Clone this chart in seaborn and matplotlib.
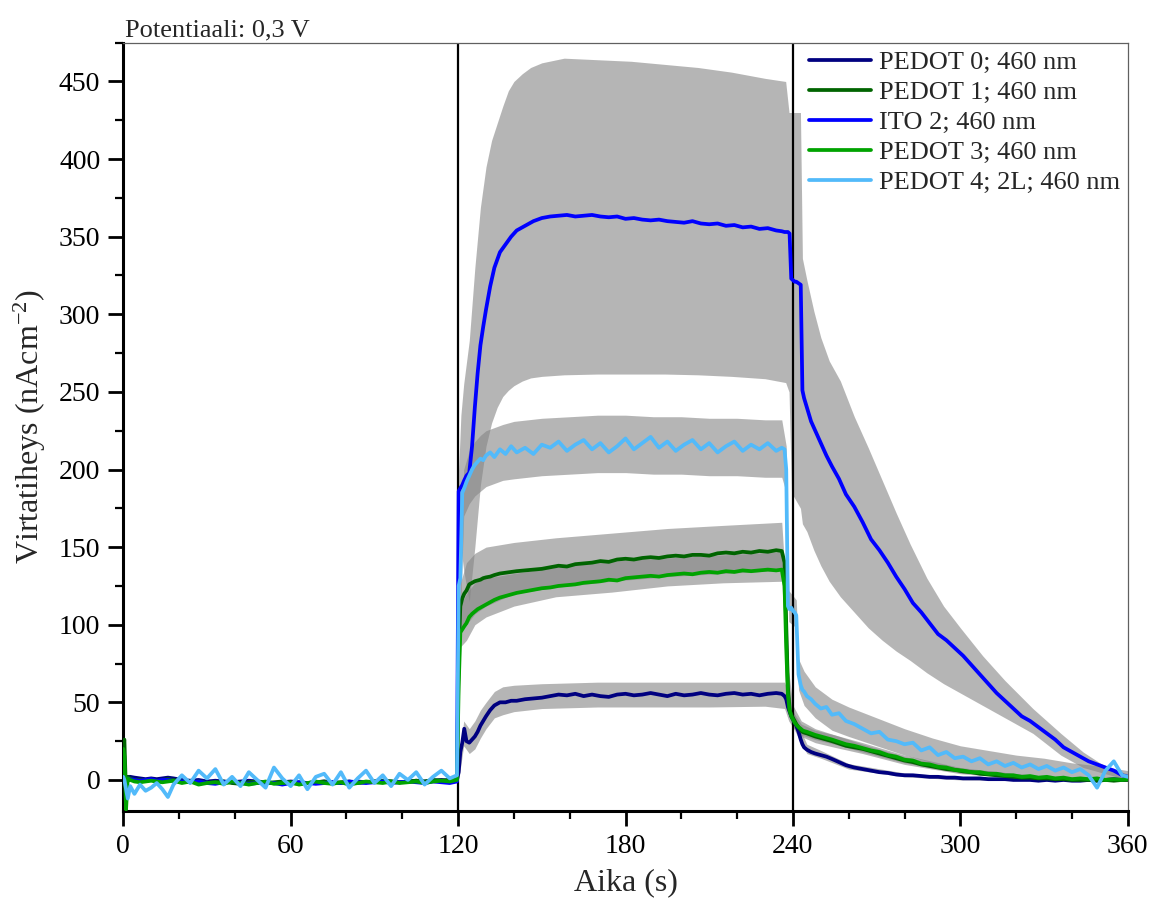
import numpy as np
import pandas as pd
import matplotlib
matplotlib.use("Agg")
import matplotlib.pyplot as plt
from matplotlib.ticker import MultipleLocator
import seaborn as sns

# ---------------------------------------------------------------------------
# Sampling times (s): dark, light on (120 s), light off (240 s), relaxation
# ---------------------------------------------------------------------------
t_pre = [0, 0.4, 1.0, 1.6, 2.5, 4, 6, 8, 10, 12, 14, 16, 18,
         21, 24, 27, 30, 33, 36, 39, 42, 45, 48, 51, 54, 57, 60, 63, 66, 69,
         72, 75, 78, 81, 84, 87, 90, 93, 96, 99, 102, 105, 108, 111, 114, 117,
         119.6]
t_rise = [120.2, 120.8, 121.5, 122.2, 123, 124, 125, 126, 127, 128, 129, 130,
          131.5, 133, 135, 137, 139, 141, 144, 147, 150]
t_plat = [153, 156, 159, 162, 165, 168, 171, 174, 177, 180, 183, 186, 189, 192,
          195, 198, 201, 204, 207, 210, 213, 216, 219, 222, 225, 228, 231, 234,
          236, 237, 237.6]
t_fall = [238.2, 238.8, 239.4, 240, 240.6, 241.2, 242, 242.8, 243.4, 244, 245,
          246.5, 248, 250, 252, 254, 256.5, 259]
t_decay = [262, 265, 268, 271, 274, 277, 280, 283, 286, 289, 292, 295, 298, 301,
           304, 307, 310, 313, 316, 319, 322, 325, 328, 331, 334, 337, 340, 343,
           346, 349, 352, 355, 358, 360]
time_s = t_pre + t_rise + t_plat + t_fall + t_decay

# ---------------------------------------------------------------------------
# Mean photocurrent density (nA/cm2)
# ---------------------------------------------------------------------------
pedot0 = ([0, 2, 1.5, 2, 2, 1.5, 1, 0.5, 1, 0.5, 1, 1.5, 1,
           0, -0.5, 0, -1, -0.5, -1, -1.5, -1, -0.5, -1, -1.5, -2, -1.5, -1,
           -1.5, -2, -1.5, -1, -1.5, -2, -1.5, -1, -1.5, -1, -0.5, -1, -1.5, -1,
           -0.5, -1, -0.5, 0, -0.5, 0]
          + [5, 18, 24, 33, 25, 24, 26, 28, 31, 35, 38, 41, 45, 48, 50, 50, 51,
             51, 52, 52.5, 53]
          + [54, 55, 54.5, 55.5, 54, 55, 54, 53.5, 55, 55.5, 54.5, 55, 56, 55,
             54, 55.5, 54.5, 55, 56, 55, 54.5, 55.5, 56, 55, 55.5, 54.5, 55.5,
             56, 55.5, 54, 52]
          + [47, 44, 41, 39, 37, 35, 31, 26, 23, 21, 19.5, 18, 17, 16, 15, 13.5,
             11.5, 9.5]
          + [8, 7, 6, 5, 4.5, 3.5, 3, 3, 2.5, 2, 2, 1.5, 1.5, 1, 1, 1, 0.5, 0.5,
             0.5, 0, 0, 0, -0.5, 0, -0.5, 0, -0.5, -0.5, 0, -0.5, 0, 0.5, 0, 0.5])

pedot1 = ([24, 26, -10, 2, 1, 0, 0, -0.5, 0, -1, 0, 0.5, 0,
           -1, -1.5, -1, -2, -1.5, -1, -2, -2.5, -1.5, -1, -2, -1.5, -1, -2,
           -2.5, -2, -1.5, -1, -2, -1.5, -1, -2, -1.5, -1, -0.5, -1, -1.5, -1,
           -0.5, -1, 0, -0.5, 0, 0.5]
          + [80, 112, 117, 120, 122, 126, 127, 128, 128.5, 129, 130, 130.5, 131,
             132, 133, 133.5, 134, 134.5, 135, 135.5, 136]
          + [137, 138, 137.5, 139, 139.5, 140, 141, 140.5, 142, 142.5, 142, 143,
             143.5, 143, 144, 144.5, 144, 145, 145, 144.5, 146, 146.5, 146, 147,
             146.5, 147.5, 147, 148, 147.5, 140, 100]
          + [60, 45, 42, 40, 38, 36, 34, 32, 31, 30.5, 30, 29, 28, 27, 26, 25,
             23.5, 22]
          + [21, 20, 18.5, 17, 15.5, 14, 12.5, 11.5, 10, 9, 8, 7, 6.5, 5.5, 5, 4,
             3.5, 3, 2.5, 2, 1.5, 1.5, 1, 1, 0.5, 0.5, 0, 0, 0, -0.5, 0, -0.5,
             0, 0])

ito2 = ([0, 1, 0.5, 1, 0.5, 0, -0.5, 0, 0.5, -0.5, 0, 0, -0.5,
         -1, -1.5, -1, -2, -2.5, -1.5, -1, -2, -2.5, -2, -1.5, -2, -3, -2, -1.5,
         -2, -2.5, -2, -1.5, -2, -1, -1.5, -2, -1.5, -1, -2, -1.5, -1, -1.5, -2,
         -1, -1.5, -2, -1]
        + [186, 188, 190, 193, 196, 198, 215, 240, 262, 280, 292, 303, 318, 330,
           340, 345, 350, 354, 357, 360, 362]
        + [363, 363.5, 364, 363, 363.5, 364, 363, 362.5, 363, 361.5, 362, 361,
           360.5, 361, 360, 359.5, 359, 360, 358.5, 358, 358.5, 357, 357.5, 356,
           356.5, 355, 355.5, 354, 353.5, 353, 353]
        + [353, 352, 323, 322, 321, 321, 320, 319, 251, 246, 240, 231, 225, 217,
           209, 202, 194, 184]
        + [176, 166, 155, 148, 140, 131, 123, 114, 108, 101, 94, 90, 85, 80, 74,
           68, 62, 56, 51, 46, 41, 38, 34, 30, 26, 21, 18, 15, 12, 10, 8, 6, 3,
           2])

pedot3 = ([20, 15, -19, 1, 0, -1, -1.5, -1, -0.5, -1, -1.5, -1, -0.5,
           -2, -1, -3, -2, -1.5, -2.5, -1, -2, -3, -2, -1, -2.5, -2, -1.5, -3,
           -2, -1, -2, -2.5, -1.5, -3, -2, -1, -1.5, -2, -1, -2, -1.5, -1, -2,
           -1, -0.5, -1, 0]
          + [60, 95, 97, 99, 101, 105, 107, 108.5, 110, 111, 112, 113, 114.5, 116,
             117.5, 118.5, 119.5, 120.5, 121.5, 122.5, 123.5]
          + [124, 125, 125.5, 126, 127, 127.5, 128, 129, 128.5, 130, 130.5, 131,
             131.5, 131, 132, 132.5, 133, 132.5, 133.5, 134, 133.5, 134.5, 134,
             135, 134.5, 135, 135.5, 135, 135.5, 125, 85]
          + [55, 45, 41, 39, 37, 35.5, 34, 33, 32, 31.5, 31, 30, 29, 28, 27, 26,
             24.5, 23]
          + [22, 20.5, 19, 18, 16, 15, 13, 12.5, 10.5, 10, 8.5, 8, 6.5, 6, 5, 5,
             4, 4, 3, 3, 2, 2.5, 1.5, 2, 1, 1.5, 0.5, 1, 0.5, 1, 0, 0.5, 0, 0.5])

pedot4 = ([2, 0, -6, -12, -4, -9, -3, -7, -5, -2, -6, -11, -3,
           3, -2, 6, 1, 7, -3, 2, -4, 5, 0, -5, 8, 1, -4, 3, -6, 2, 4, -3, 5, -5,
           1, 6, -2, 3, -4, 4, 0, 5, -3, 2, 6, 1, 3]
          + [125, 130, 185, 188, 192, 196, 200, 203, 205, 207, 206, 209, 211, 208,
             213, 210, 215, 211, 214, 210, 216]
          + [214, 218, 212, 216, 219, 213, 217, 211, 215, 220, 213, 217, 221, 214,
             218, 212, 216, 219, 213, 217, 211, 215, 218, 212, 216, 213, 217, 212,
             214, 213, 200]
          + [112, 110, 111, 109, 108, 106, 68, 61, 58, 57, 54, 52, 49, 46, 47, 42,
             43, 38]
          + [36, 33, 30, 31, 26, 25, 23, 24, 19, 21, 16, 18, 14, 15, 12, 14, 10,
             12, 9, 11, 8, 10, 7, 9, 6, 8, 5, 7, 3, -5, 6, 12, 3, 2])

# ---------------------------------------------------------------------------
# Spread (lower / upper edge) of each measurement series
# ---------------------------------------------------------------------------
p0_band_t = [120.2, 122, 124, 126, 128, 130, 133, 136, 140, 150, 170, 190, 210,
             230, 237, 238.5, 240, 242, 245, 250, 260, 280, 300, 330, 360]
p0_hi = [10, 38, 33, 38, 45, 50, 57, 60, 61, 62, 63, 63, 63, 63, 63, 55, 45, 35,
         23, 19, 10.5, 4.5, 2, 1, 0.5]
p0_lo = [0, 22, 17, 20, 27, 33, 40, 42, 44, 46, 47, 47, 47, 47.5, 46, 38, 34, 27,
         17, 14, 7, 2, 0, -0.5, -0.5]

p13_band_t = [120.2, 121, 123, 126, 130, 140, 155, 175, 195, 215, 236, 237.6,
              238.5, 240, 243, 248, 255, 265, 280, 300, 330, 360]
p1_hi = [100, 128, 140, 146, 150, 153, 156, 159, 162, 164, 166, 120, 70, 48, 38,
         33, 29, 24, 16, 8, 2, 1]
p1_lo = [60, 95, 100, 107, 112, 120, 124, 128, 131, 133, 135, 80, 50, 35, 28,
         24, 21, 17, 10, 4, 0, -1]
p3_hi = [70, 113, 120, 127, 130, 133, 137, 141, 143, 145, 147, 95, 58, 44, 36,
         32, 29, 23, 15, 7.5, 2.5, 1.5]
p3_lo = [50, 86, 90, 100, 105, 112, 118, 121, 125, 127, 128, 75, 42, 34, 29, 26,
         23, 18, 11, 4.5, 0.5, -0.5]

ito_band_t = [120.2, 121, 122, 124, 126, 128, 130, 132, 134, 136,
              138, 140, 143, 146, 150, 158, 170, 182, 194, 206,
              218, 230, 237.4, 238.6, 239.5, 242.7, 243.4, 245, 247.5, 250,
              253, 257, 262, 267, 272, 277, 282, 288, 294, 300,
              308, 316, 326, 336, 344, 350, 356, 360]
ito_hi = [200, 235, 255, 283, 330, 369, 395, 412, 423, 434,
          444, 450, 455, 459, 462, 465, 464, 463, 461, 459,
          456, 452, 450, 430, 430, 430, 336, 322, 302, 285,
          270, 257, 234, 214, 193, 172, 152, 130, 112, 98,
          80, 64, 46, 30, 18, 11, 6, 4]
ito_lo = [172, 150, 135, 115, 150, 190, 215, 230, 240, 247,
          251, 254, 257, 259, 260, 261, 261.5, 261.5, 261.5, 261,
          260, 258.5, 256, 250, 185, 175, 165, 160, 148, 138,
          128, 118, 108, 98, 90, 83, 77, 69, 62, 56,
          48, 40, 30, 16, 8, 5, 2, 1]

p4_band_t = [119.6, 120.2, 121, 122, 124, 126,
             128, 130, 133, 136, 140, 145, 150, 160, 170, 180,
             190, 200, 210, 220, 230, 236, 237.6, 238.5, 241.2, 242,
             244, 248, 254, 260, 270, 280, 290, 300, 310, 320,
             330, 340, 350, 360]
p4_hi = [4, 135, 145, 200, 212, 218,
         222, 225, 227, 229, 231, 232, 233, 234, 235, 235,
         234, 234, 233, 233, 232, 232, 215, 122, 116, 78,
         70, 60, 52, 47, 40, 33, 27, 22, 19, 16,
         14, 11, 9, 6]
p4_lo = [2, 110, 115, 170, 178, 183,
         186, 189, 191, 193, 194, 195, 196, 197, 198, 198,
         197, 197, 196, 196, 195, 195, 185, 102, 98, 58,
         48, 40, 32, 28, 22, 16, 11, 7, 5, 3,
         2, 1, 0, -1]

series_names = ["PEDOT 0; 460 nm", "PEDOT 1; 460 nm", "ITO 2; 460 nm",
                "PEDOT 3; 460 nm", "PEDOT 4; 2L; 460 nm"]
series_colors = ["#000080", "#006400", "#0000FF", "#00A300", "#52BAFA"]
switch_times = [120, 240]

bands = [(p0_band_t, p0_lo, p0_hi), (p13_band_t, p1_lo, p1_hi),
         (ito_band_t, ito_lo, ito_hi), (p13_band_t, p3_lo, p3_hi),
         (p4_band_t, p4_lo, p4_hi)]

df = pd.concat(
    [pd.DataFrame({"Aika": time_s, "Virta": vals, "Näyte": name})
     for name, vals in zip(series_names, [pedot0, pedot1, ito2, pedot3, pedot4])],
    ignore_index=True)

# ---------------------------------------------------------------------------
sns.set_style("ticks")
plt.rcParams["font.family"] = ["Liberation Serif", "DejaVu Serif"]
plt.rcParams["mathtext.fontset"] = "custom"
plt.rcParams["mathtext.rm"] = "Liberation Serif"
plt.rcParams["mathtext.it"] = "Liberation Serif:italic"

fig = plt.figure(figsize=(11.51, 8.98), dpi=100)
ax = fig.add_axes([0.1071, 0.0969, 0.8727, 0.8556])

for bt, lo, hi in bands:
    ax.fill_between(bt, lo, hi, color=(0.52, 0.52, 0.52), alpha=0.6,
                    linewidth=0, zorder=1)

for xs in switch_times:
    ax.axvline(xs, color="black", linewidth=1.6, zorder=2)

sns.lineplot(data=df, x="Aika", y="Virta", hue="Näyte", hue_order=series_names,
             palette=dict(zip(series_names, series_colors)), estimator=None,
             sort=False, linewidth=2.7, ax=ax, zorder=3)

ax.set_xlim(0, 360)
ax.set_ylim(-20, 475)
ax.xaxis.set_major_locator(MultipleLocator(60))
ax.xaxis.set_minor_locator(MultipleLocator(20))
ax.yaxis.set_major_locator(MultipleLocator(50))
ax.yaxis.set_minor_locator(MultipleLocator(25))

for side in ("left", "bottom"):
    ax.spines[side].set_color("black")
    ax.spines[side].set_linewidth(2.2)
for side in ("top", "right"):
    ax.spines[side].set_color("#606060")
    ax.spines[side].set_linewidth(0.9)

ax.tick_params(which="major", direction="out", length=10.5, width=2.0,
               labelsize=20, pad=6, colors="black", top=False, right=False)
ax.tick_params(which="minor", direction="out", length=6, width=1.6,
               colors="black", top=False, right=False)

ax.set_xlabel("Aika (s)", fontsize=23, labelpad=7)
ax.set_ylabel(r"Virtatiheys (nAcm$^{-2}$)", fontsize=23, labelpad=8)

ax.annotate("Potentiaali: 0,3 V", xy=(0, 1), xycoords="axes fraction",
            xytext=(1, 4.3), textcoords="offset points", fontsize=19,
            ha="left", va="baseline")

handles, labels = ax.get_legend_handles_labels()
ax.legend(handles, labels, loc="upper left", bbox_to_anchor=(0.683, 0.990),
          frameon=False, fontsize=19, handlelength=2.35, handletextpad=0.3,
          labelspacing=0.25, borderaxespad=0, borderpad=0)

fig.savefig("out.png", dpi=100)
